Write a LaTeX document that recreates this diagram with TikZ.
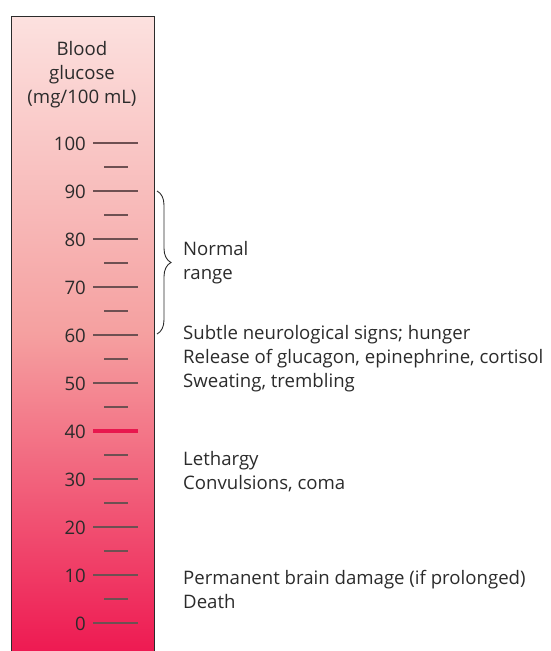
\documentclass[tikz,border=0pt]{standalone}
\usepackage{fontspec}
\setmainfont{Open Sans}
\definecolor{bgTop}{HTML}{FCE1DF}
\definecolor{bgMid}{HTML}{F5A0A0}
\definecolor{bgLow}{HTML}{EE1A52}
\definecolor{tickInk}{HTML}{6E5052}
\definecolor{txtInk}{HTML}{2B2B2B}
\definecolor{alarm}{HTML}{E8174E}
\usetikzlibrary{decorations.pathreplacing}

\begin{document}
\begin{tikzpicture}[x=1pt,y=-1pt,
                    every node/.style={font=\fontsize{18.6}{24}\selectfont,text=txtInk,inner sep=0pt},
                    major/.style={draw=tickInk,line width=1.4pt},
                    minor/.style={draw=tickInk,line width=1.4pt},
                    note/.style={anchor=west,align=left}]
  \useasboundingbox (0,0) rectangle (550,651);
  % the column
  \shade[top color=bgTop,bottom color=bgLow,middle color=bgMid] (11,16) rectangle (154,651);
  \draw[txtInk,line width=0.8pt] (11,651) -- (11,16) -- (154,16) -- (154,651);
  \node[align=center] (title) at (82,75) {Blood\\glucose\\(mg/100 mL)};
  % scale
  \foreach \v in {0,10,...,100}
    \node[anchor=east] (lab\v) at (86,{624-4.8*\v}) {\v};
  \foreach \v in {0,10,20,30,50,60,70,80,90,100}
    \draw[major] (93,{623-4.8*\v}) -- (138,{623-4.8*\v});
  \draw[draw=alarm,line width=3.6pt] (93,431) -- (138,431);
  \foreach \v in {5,15,...,95}
    \draw[minor] (104,{623-4.8*\v}) -- (128,{623-4.8*\v});
  % normal range
  \coordinate (rangeTop) at (157,191);
  \coordinate (rangeLow) at (157,334);
  \draw[txtInk,line width=0.9pt,decorate,decoration={brace,amplitude=14pt}] (rangeTop) -- (rangeLow);
  \node[note] (normal) at (183,263) {Normal\\range};
  % symptoms
  \node[note] (signs) at (183,359) {Subtle neurological signs; hunger\\Release of glucagon, epinephrine, cortisol\\Sweating, trembling};
  \node[note] (lethargy) at (183,472) {Lethargy\\Convulsions, coma};
  \node[note] (damage) at (183,589) {Permanent brain damage (if prolonged)\\Death};
\end{tikzpicture}
\end{document}
